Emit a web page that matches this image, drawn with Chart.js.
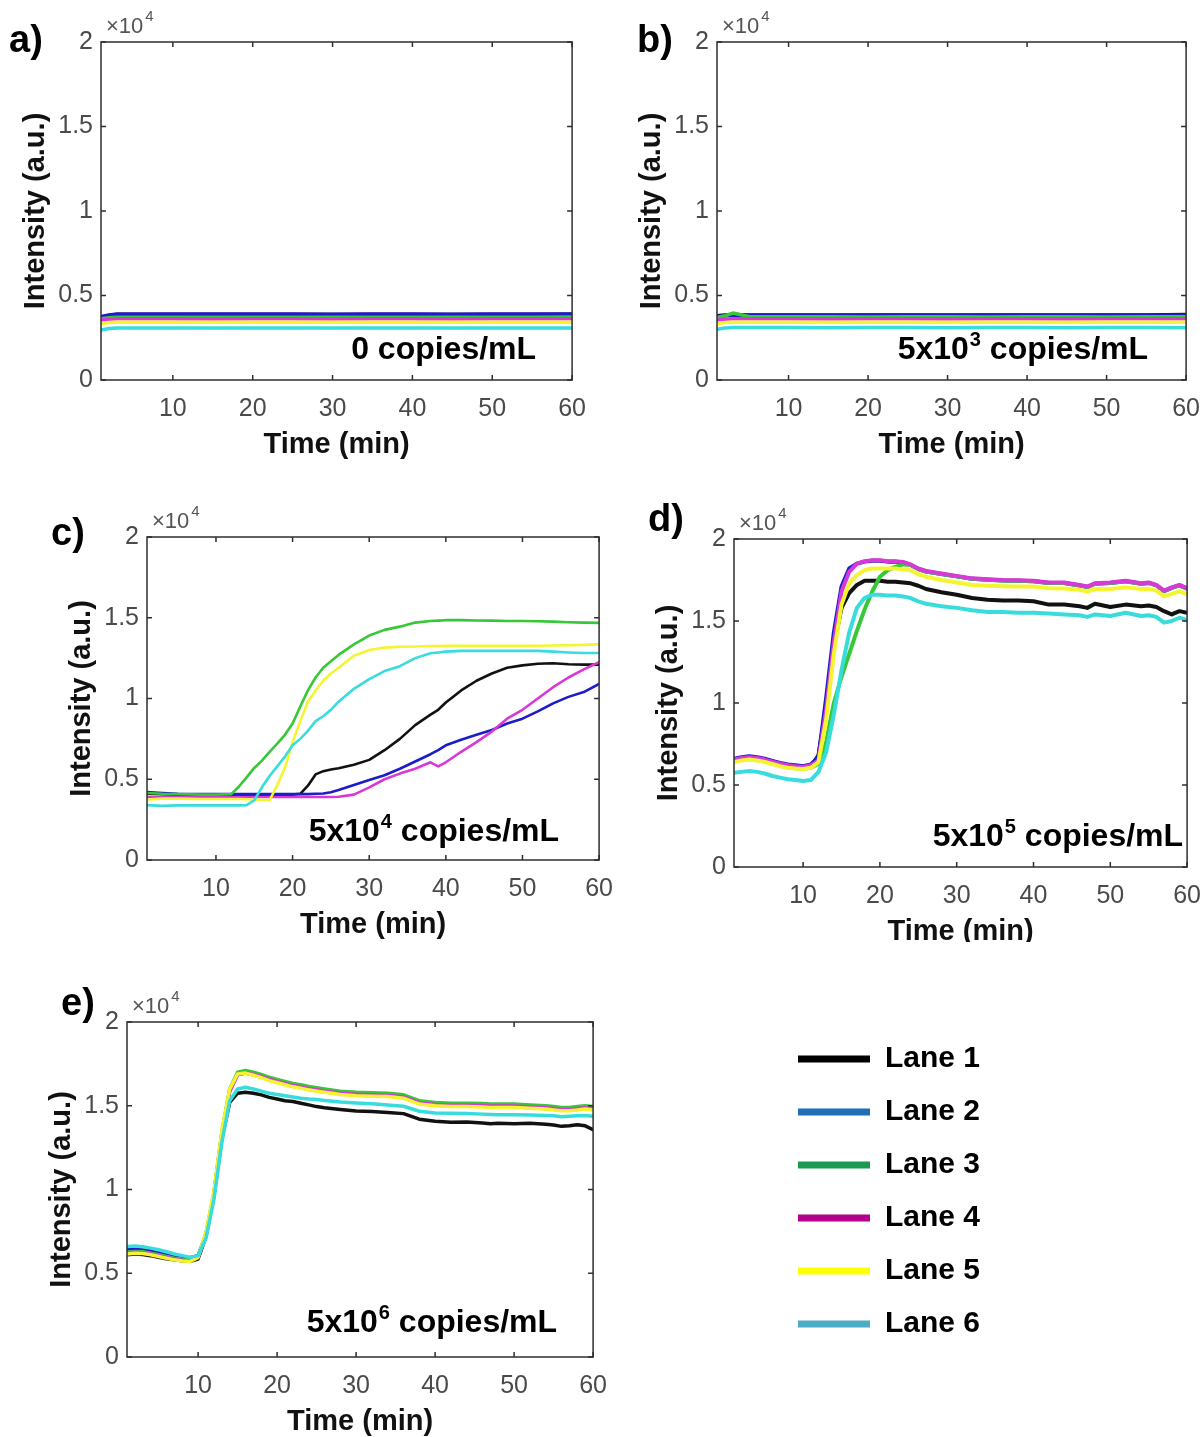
<!DOCTYPE html>
<html><head><meta charset="utf-8">
<script src="https://cdn.jsdelivr.net/npm/chart.js@4.4.1/dist/chart.umd.min.js"></script>
<style>
html,body{margin:0;padding:0;background:#fff;}
body{width:1202px;height:1437px;position:relative;overflow:hidden;}
.panel{position:absolute;}
</style></head><body>
<script>
// ---------- labels, colours, ticks ----------
const laneNames = ['Lane 1','Lane 2','Lane 3','Lane 4','Lane 5','Lane 6'];
const lineColors = ['#111111','#1c1cc8','#36c836','#d838d8','#f4f430','#38dcdc'];
const legendColors = ['#000000','#1f6fb6','#1a9a52','#b3008c','#ffff00','#4bacc6'];
const xTickValues = [10,20,30,40,50,60];
const yTickValues = [0,5000,10000,15000,20000];
const xTitle = 'Time (min)';
const yTitle = 'Intensity (a.u.)';

// ---------- panel a : 0 copies/mL ----------
const timeA = [1,2,3,5,10,15,20,25,30,35,40,45,50,55,60];
const a_lane1 = [3700,3820,3880,3880,3880,3870,3870,3880,3880,3880,3870,3880,3880,3870,3890];
const a_lane2 = [3750,3850,3900,3900,3900,3900,3900,3900,3890,3900,3900,3890,3900,3900,3900];
const a_lane3 = [3620,3680,3720,3720,3710,3720,3720,3710,3720,3720,3710,3720,3710,3720,3730];
const a_lane4 = [3550,3600,3620,3620,3620,3610,3620,3620,3610,3620,3620,3610,3620,3620,3620];
const a_lane5 = [3350,3400,3420,3420,3410,3420,3420,3410,3420,3420,3410,3420,3420,3410,3420];
const a_lane6 = [2950,3050,3080,3080,3080,3070,3080,3080,3070,3080,3080,3070,3080,3080,3070];

// ---------- panel b : 5x10^3 copies/mL ----------
const timeB = [1,2,3,5,10,15,20,25,30,35,40,45,50,55,60];
const b_lane1 = [3800,3850,3880,3850,3850,3850,3840,3850,3850,3840,3850,3850,3840,3850,3870];
const b_lane2 = [3750,3800,3830,3830,3830,3820,3830,3830,3820,3830,3830,3820,3830,3830,3840];
const b_lane3 = [3700,3800,3960,3760,3740,3740,3730,3740,3740,3730,3740,3740,3730,3740,3750];
const b_lane4 = [3550,3600,3620,3620,3620,3610,3620,3620,3610,3620,3620,3610,3620,3620,3620];
const b_lane5 = [3350,3400,3420,3420,3410,3420,3420,3410,3420,3420,3410,3420,3420,3410,3420];
const b_lane6 = [3000,3080,3100,3100,3100,3090,3100,3100,3090,3100,3100,3090,3100,3100,3090];

// ---------- panel c : 5x10^4 copies/mL ----------
const timeC = [1,3,5,8,10,12,13,14,15,16,17,18,19,20,21,22,23,24,25,26,28,30,32,34,36,38,39,40,42,44,46,48,50,52,54,56,58,60];
const c_lane1 = [4100,4080,4050,4030,4030,4030,4030,4030,4030,4030,4030,4030,4030,4050,4100,4600,5300,5500,5600,5680,5900,6200,6800,7500,8350,9000,9300,9750,10500,11100,11550,11900,12050,12150,12180,12120,12100,12100];
const c_lane2 = [4200,4150,4100,4080,4080,4080,4080,4080,4080,4080,4080,4080,4080,4080,4080,4080,4100,4120,4200,4330,4650,4950,5250,5650,6100,6550,6800,7100,7450,7750,8050,8450,8750,9200,9700,10100,10400,10900];
const c_lane3 = [4150,4100,4080,4050,4050,4080,4550,5120,5700,6150,6700,7200,7750,8450,9500,10500,11300,11900,12300,12700,13350,13900,14250,14450,14700,14800,14820,14850,14850,14830,14820,14800,14800,14780,14760,14720,14700,14680];
const c_lane4 = [3900,3900,3900,3900,3900,3900,3900,3900,3900,3900,3900,3900,3900,3900,3900,3900,3900,3900,3900,3920,4050,4500,5000,5350,5650,6050,5800,6050,6700,7300,7950,8750,9300,10000,10700,11300,11800,12250];
const c_lane5 = [3750,3800,3800,3780,3780,3780,3780,3760,3750,3720,3700,4640,5700,7300,8600,9800,10500,11100,11550,11900,12650,13000,13150,13200,13220,13250,13250,13260,13260,13260,13260,13260,13260,13270,13280,13300,13320,13360];
const c_lane6 = [3400,3350,3380,3380,3380,3380,3380,3400,3700,4500,5200,5800,6400,7100,7500,8000,8600,8900,9300,9800,10600,11200,11700,12000,12500,12800,12850,12900,12950,12950,12950,12950,12950,12950,12900,12850,12820,12820];

// ---------- panel d : 5x10^5 copies/mL ----------
const timeD = [1,2,3,4,5,6,7,8,9,10,11,12,13,14,15,16,17,18,19,20,21,22,23,24,25,26,28,30,32,34,36,38,40,42,44,46,47,48,50,52,54,55,56,57,58,59,60];
const d_lane1 = [6450,6550,6600,6550,6450,6330,6200,6100,6050,6020,6100,6800,9800,13500,15800,16700,17200,17450,17450,17450,17400,17400,17350,17300,17150,16950,16750,16600,16400,16300,16250,16250,16200,16000,16000,15900,15800,16050,15850,16000,15900,15950,15850,15600,15400,15600,15500];
const d_lane2 = [6600,6700,6750,6700,6600,6470,6350,6250,6200,6150,6250,6700,10300,14300,17100,18200,18500,18620,18670,18670,18620,18620,18570,18420,18170,18020,17870,17720,17570,17520,17470,17450,17420,17320,17320,17170,17070,17270,17320,17420,17270,17320,17170,16820,17020,17170,16970];
const d_lane3 = [6450,6550,6600,6550,6450,6300,6180,6080,6020,6000,6050,6300,7600,10000,11600,13000,14400,15700,16800,17700,18100,18300,18450,18420,18170,18020,17870,17720,17570,17520,17470,17450,17420,17320,17320,17170,17070,17270,17320,17420,17270,17320,17170,16820,17020,17170,16970];
const d_lane4 = [6550,6650,6700,6650,6550,6420,6300,6200,6150,6100,6200,6500,9600,13700,16800,18000,18500,18650,18700,18700,18650,18650,18600,18450,18200,18050,17900,17750,17600,17550,17500,17480,17450,17350,17350,17200,17100,17300,17350,17450,17300,17350,17200,16850,17050,17200,17000];
const d_lane5 = [6400,6500,6550,6500,6400,6280,6150,6050,6000,5980,6050,6400,9000,13000,16000,17300,17800,18100,18200,18200,18200,18200,18150,18100,17850,17700,17500,17350,17200,17150,17120,17100,17100,17000,16980,16900,16800,16950,16950,17050,16950,16950,16850,16500,16650,16800,16630];
const d_lane6 = [5750,5800,5850,5800,5700,5550,5450,5350,5300,5250,5300,5800,7000,9300,12000,14300,15800,16400,16600,16600,16550,16550,16500,16400,16200,16050,15900,15800,15650,15550,15550,15500,15500,15450,15400,15350,15250,15400,15300,15500,15300,15350,15250,14900,15000,15200,15050];

// ---------- panel e : 5x10^6 copies/mL ----------
const timeE = [1,2,3,4,5,6,7,8,9,10,11,12,13,14,15,16,17,18,19,20,21,22,23,24,25,26,28,30,32,34,36,38,40,42,44,46,47,48,50,52,54,55,56,57,58,59,60];
const e_lane1 = [6100,6150,6120,6050,5950,5870,5800,5750,5720,5850,7200,9600,13000,15200,15750,15800,15750,15650,15500,15400,15300,15250,15150,15050,14950,14880,14770,14680,14650,14600,14530,14200,14070,14010,14030,13970,13930,13950,13930,13950,13900,13850,13770,13800,13870,13800,13570];
const e_lane2 = [6450,6480,6450,6380,6270,6150,6050,5980,5930,6050,7300,9700,13300,15900,16880,16950,16850,16710,16540,16410,16290,16170,16090,15990,15910,15840,15710,15640,15610,15590,15490,15140,15040,14990,14990,14970,14940,14940,14940,14890,14840,14790,14740,14740,14790,14840,14790];
const e_lane3 = [6250,6300,6280,6200,6100,6000,5900,5830,5800,6000,7400,9800,13400,16000,17000,17100,17000,16870,16700,16570,16450,16330,16250,16150,16070,16000,15870,15800,15770,15750,15650,15300,15200,15150,15150,15130,15100,15100,15100,15050,15000,14950,14900,14900,14950,15000,14950];
const e_lane4 = [6200,6250,6230,6150,6050,5950,5850,5780,5750,5950,7300,9700,13300,15850,16850,16950,16880,16750,16580,16450,16330,16210,16130,16030,15950,15880,15750,15680,15650,15630,15530,15180,15080,15030,15030,15010,14980,14980,14980,14930,14880,14830,14780,14780,14830,14880,14830];
const e_lane5 = [6150,6200,6180,6100,6000,5900,5800,5730,5700,5950,7450,9900,13500,16000,16900,16950,16820,16680,16500,16370,16250,16130,16050,15950,15870,15800,15670,15600,15570,15550,15450,15100,15000,14950,14950,14930,14900,14900,14900,14850,14800,14750,14700,14700,14750,14800,14750];
const e_lane6 = [6600,6620,6580,6500,6400,6280,6150,6050,5950,6050,7100,9400,12800,15300,16000,16100,16000,15870,15750,15670,15600,15520,15450,15400,15370,15320,15230,15170,15120,15050,14970,14670,14570,14550,14530,14500,14480,14470,14470,14450,14420,14400,14350,14380,14400,14420,14370];

const FONT = '"Liberation Sans", Arial, Helvetica, sans-serif';

// ---------- panel layout (plot boxes in page pixels) ----------
const panels = [
  { letter:'a)', letterDx:-92, letterDy:0, annot:['0 copies/mL','',''], annotDx:-36, annotDy:-30,
    plot:{x:101,y:42,w:471,h:338}, time:timeA, lanes:[a_lane1,a_lane2,a_lane3,a_lane4,a_lane5,a_lane6], lw:3.5 },
  { letter:'b)', letterDx:-80, letterDy:0, annot:['5x10','3',' copies/mL'], annotDx:-38, annotDy:-30,
    plot:{x:717,y:42,w:469,h:338}, time:timeB, lanes:[b_lane1,b_lane2,b_lane3,b_lane4,b_lane5,b_lane6], lw:3.5 },
  { letter:'c)', letterDx:-96, letterDy:-2, annot:['5x10','4',' copies/mL'], annotDx:-40, annotDy:-28,
    plot:{x:147,y:537,w:452,h:323}, time:timeC, lanes:[c_lane1,c_lane2,c_lane3,c_lane4,c_lane5,c_lane6], lw:2.6 },
  { letter:'d)', letterDx:-86, letterDy:-18, annot:['5x10','5',' copies/mL'], annotDx:-4, annotDy:-30,
    plot:{x:734,y:539,w:453,h:328}, time:timeD, lanes:[d_lane1,d_lane2,d_lane3,d_lane4,d_lane5,d_lane6], lw:4, clipBottom:942 },
  { letter:'e)', letterDx:-66, letterDy:-17, annot:['5x10','6',' copies/mL'], annotDx:-36, annotDy:-34,
    plot:{x:127,y:1022,w:466,h:335}, time:timeE, lanes:[e_lane1,e_lane2,e_lane3,e_lane4,e_lane5,e_lane6], lw:3.5 }
];

const decorPlugin = {
  id: 'decor',
  afterDatasetsDraw(chart, args, opts) {
    const p = opts.panel; if (!p) return;
    const {ctx, chartArea: ca, scales} = chart;
    ctx.save();
    ctx.strokeStyle = '#2e2e2e'; ctx.lineWidth = 1.5;
    ctx.strokeRect(ca.left, ca.top, ca.right - ca.left, ca.bottom - ca.top);
    ctx.beginPath();
    xTickValues.forEach(v => {
      const px = scales.x.getPixelForValue(v);
      ctx.moveTo(px, ca.bottom); ctx.lineTo(px, ca.bottom - 5);
      ctx.moveTo(px, ca.top); ctx.lineTo(px, ca.top + 5);
    });
    yTickValues.forEach(v => {
      const py = scales.y.getPixelForValue(v);
      ctx.moveTo(ca.left, py); ctx.lineTo(ca.left + 5, py);
      ctx.moveTo(ca.right, py); ctx.lineTo(ca.right - 5, py);
    });
    ctx.stroke();
    // exponent label
    ctx.fillStyle = '#555';
    ctx.textBaseline = 'middle'; ctx.textAlign = 'left';
    ctx.font = '22px ' + FONT;
    const ex = ca.left + 5, ey = ca.top - 15;
    ctx.fillText('\u00d710', ex, ey);
    const w10 = ctx.measureText('\u00d710').width;
    ctx.font = '15px ' + FONT;
    ctx.fillText('4', ex + w10 + 2, ey - 10);
    // concentration annotation
    ctx.fillStyle = '#000';
    const big = 'bold 32px ' + FONT, small = 'bold 20px ' + FONT;
    ctx.font = big; const w1 = ctx.measureText(p.annot[0]).width; const w3 = ctx.measureText(p.annot[2]).width;
    ctx.font = small; const w2 = p.annot[1] ? ctx.measureText(p.annot[1]).width + 1 : 0;
    let ax = ca.right + p.annotDx - (w1 + w2 + w3);
    const ay = ca.bottom + p.annotDy;
    ctx.font = big; ctx.fillText(p.annot[0], ax, ay); ax += w1;
    if (p.annot[1]) { ctx.font = small; ctx.fillText(p.annot[1], ax + 1, ay - 10); ax += w2; }
    ctx.font = big; ctx.fillText(p.annot[2], ax, ay);
    // panel letter
    ctx.font = 'bold 38px ' + FONT;
    ctx.fillText(p.letter, ca.left + p.letterDx, ca.top + p.letterDy);
    ctx.restore();
  }
};

function makeChart(canvas, p, w, h) {
  canvas.width = w; canvas.height = h;
  canvas.style.width = w + 'px'; canvas.style.height = h + 'px';
  const datasets = p.lanes.map((arr, i) => ({
    label: laneNames[i],
    data: arr.map((v, k) => ({x: p.time[k], y: v})),
    borderColor: lineColors[i],
    backgroundColor: lineColors[i],
    borderWidth: p.lw,
    pointRadius: 0,
    tension: 0,
    fill: false,
    borderJoinStyle: 'round',
    borderCapStyle: 'round',
    order: 6 - i
  }));
  return new Chart(canvas, {
    type: 'line',
    data: { datasets },
    options: {
      responsive: false,
      maintainAspectRatio: false,
      animation: false,
      events: [],
      layout: { padding: { left: 40, top: 45, right: 18, bottom: 6 } },
      plugins: { legend: { display: false }, tooltip: { enabled: false }, decor: { panel: p } },
      scales: {
        x: {
          type: 'linear', min: 1, max: 60,
          afterBuildTicks: s => { s.ticks = xTickValues.map(v => ({value: v})); },
          afterFit: s => { s.height = 82; },
          grid: { display: false, drawTicks: false },
          border: { display: false },
          ticks: { font: { family: FONT, size: 25 }, color: '#4a4a4a', padding: 14, maxRotation: 0, autoSkip: false, callback: v => String(v) },
          title: { display: true, text: xTitle, font: { family: FONT, size: 29, weight: 'bold' }, color: '#111', padding: 0 }
        },
        y: {
          type: 'linear', min: 0, max: 20000,
          afterBuildTicks: s => { s.ticks = yTickValues.map(v => ({value: v})); },
          afterFit: s => { s.width = 82; },
          grid: { display: false, drawTicks: false },
          border: { display: false },
          ticks: { font: { family: FONT, size: 25 }, color: '#4a4a4a', padding: 8, callback: v => String(v / 10000) },
          title: { display: true, text: yTitle, font: { family: FONT, size: 29, weight: 'bold' }, color: '#111', padding: 0 }
        }
      }
    },
    plugins: [decorPlugin]
  });
}

function buildPanel(p) {
  const holder = document.createElement('div');
  holder.className = 'panel';
  document.body.appendChild(holder);
  const canvas = document.createElement('canvas');
  holder.appendChild(canvas);
  let cw = p.plot.w + 160, ch = p.plot.h + 140;
  let chart = makeChart(canvas, p, cw, ch);
  let ca = chart.chartArea;
  const dw = p.plot.w - (ca.right - ca.left), dh = p.plot.h - (ca.bottom - ca.top);
  if (Math.abs(dw) > 0.01 || Math.abs(dh) > 0.01) {
    chart.destroy();
    cw = Math.round(cw + dw); ch = Math.round(ch + dh);
    chart = makeChart(canvas, p, cw, ch);
    ca = chart.chartArea;
  }
  const left = p.plot.x - ca.left, top = p.plot.y - ca.top;
  holder.style.left = left + 'px';
  holder.style.top = top + 'px';
  if (p.clipBottom) {
    holder.style.overflow = 'hidden';
    holder.style.width = cw + 'px';
    holder.style.height = (p.clipBottom - top) + 'px';
  }
}

panels.forEach(buildPanel);

// ---------- legend ----------
(function buildLegend() {
  const holder = document.createElement('div');
  holder.className = 'panel';
  holder.style.left = '775px'; holder.style.top = '1021px';
  document.body.appendChild(holder);
  const canvas = document.createElement('canvas');
  canvas.width = 560; canvas.height = 400;
  canvas.style.width = '560px'; canvas.style.height = '400px';
  holder.appendChild(canvas);
  new Chart(canvas, {
    type: 'line',
    data: { datasets: laneNames.map((n, i) => ({ label: n, data: [], borderColor: legendColors[i], backgroundColor: legendColors[i] })) },
    options: {
      responsive: false, maintainAspectRatio: false, animation: false, events: [],
      layout: { padding: 0 },
      scales: { x: { display: false }, y: { display: false } },
      plugins: {
        tooltip: { enabled: false },
        legend: {
          display: true, position: 'left', align: 'start',
          labels: {
            boxWidth: 72, boxHeight: 7, padding: 23, color: '#000',
            font: { family: FONT, size: 30, weight: 'bold' },
            generateLabels: chart => laneNames.map((n, i) => ({
              text: n, fillStyle: legendColors[i], strokeStyle: legendColors[i], lineWidth: 0, hidden: false, datasetIndex: i
            }))
          }
        }
      }
    }
  });
})();
</script>
</body></html>
